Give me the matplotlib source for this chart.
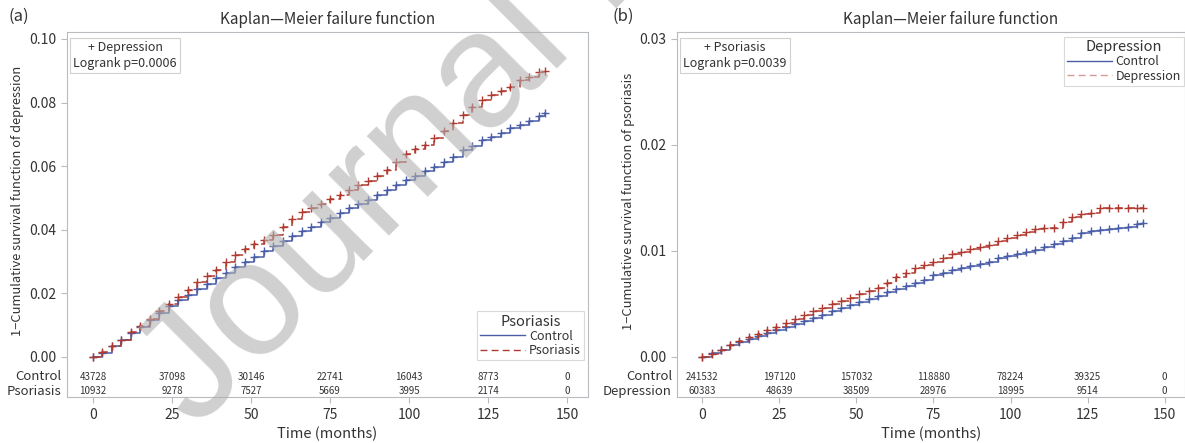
import numpy as np
import matplotlib
matplotlib.use("Agg")
import matplotlib.pyplot as plt
import matplotlib.transforms as mtransforms
from matplotlib.lines import Line2D

plt.rcParams['font.family'] = ['Noto Sans CJK KR', 'DejaVu Sans']

# months at which the curves are read
months = [0, 3, 6, 9, 12, 15, 18, 21, 24, 27, 30, 33, 36, 39, 42, 45, 48, 51, 54, 57,
          60, 63, 66, 69, 72, 75, 78, 81, 84, 87, 90, 93, 96, 99, 102, 105, 108, 111,
          114, 117, 120, 123, 126, 129, 132, 135, 138, 141, 143]

# panel (a): failure of depression
a_control = [0, 0.0013, 0.0033, 0.0053, 0.0075, 0.0095, 0.0115, 0.0138, 0.016, 0.0178,
             0.0195, 0.0213, 0.023, 0.0248, 0.0265, 0.0282, 0.0298, 0.0315, 0.0332, 0.0348,
             0.0365, 0.0382, 0.0395, 0.041, 0.0425, 0.0438, 0.0452, 0.0467, 0.048, 0.0495,
             0.051, 0.0525, 0.054, 0.0557, 0.057, 0.0585, 0.0598, 0.0612, 0.063, 0.065,
             0.0665, 0.0682, 0.0692, 0.0705, 0.072, 0.073, 0.0742, 0.0758, 0.0767]
a_psoriasis = [0, 0.0015, 0.0035, 0.0055, 0.0078, 0.0098, 0.012, 0.0145, 0.0168, 0.019,
               0.0212, 0.0235, 0.0255, 0.0275, 0.0298, 0.032, 0.034, 0.0355, 0.0368, 0.0385,
               0.0408, 0.0435, 0.0455, 0.0468, 0.048, 0.0498, 0.051, 0.0525, 0.054, 0.0552,
               0.0568, 0.0588, 0.0612, 0.0638, 0.0655, 0.0668, 0.069, 0.071, 0.0735, 0.076,
               0.0785, 0.0808, 0.0825, 0.0838, 0.0848, 0.0872, 0.088, 0.0895, 0.0900]

# panel (b): failure of psoriasis
b_control = [0, 0.0004, 0.0007, 0.0011, 0.0014, 0.0017, 0.0020, 0.0023, 0.0025, 0.0028,
             0.0031, 0.0034, 0.0037, 0.0040, 0.0043, 0.0046, 0.0049, 0.0052, 0.0055, 0.0058,
             0.0061, 0.0064, 0.0067, 0.0070, 0.0073, 0.0077, 0.0079, 0.0082, 0.0084, 0.0086,
             0.0088, 0.0090, 0.0093, 0.0095, 0.0097, 0.0099, 0.0101, 0.0104, 0.0107, 0.0109,
             0.0112, 0.0117, 0.0119, 0.0120, 0.0121, 0.0122, 0.0123, 0.0125, 0.0126]
b_depression = [0, 0.0003, 0.0007, 0.0011, 0.0015, 0.0019, 0.0022, 0.0025, 0.0028, 0.0032,
                0.0036, 0.0040, 0.0043, 0.0046, 0.0050, 0.0053, 0.0056, 0.0059, 0.0062, 0.0065,
                0.0070, 0.0075, 0.0079, 0.0084, 0.0087, 0.0090, 0.0093, 0.0097, 0.0099, 0.0102,
                0.0104, 0.0106, 0.0109, 0.0112, 0.0115, 0.0118, 0.0121, 0.0122, 0.0122, 0.0127,
                0.0132, 0.0135, 0.0136, 0.0141, 0.0141, 0.0141, 0.0141, 0.0141, 0.0141]

risk_times = [0, 25, 50, 75, 100, 125, 150]
a_risk_control = [43728, 37098, 30146, 22741, 16043, 8773, 0]
a_risk_psoriasis = [10932, 9278, 7527, 5669, 3995, 2174, 0]
b_risk_control = [241532, 197120, 157032, 118880, 78224, 39325, 0]
b_risk_depression = [60383, 48639, 38509, 28976, 18995, 9514, 0]

BLUE = '#4a5ea8'
RED = '#b03a30'
FRAME = '#b8bcc0'
TXT = '#333333'

fig = plt.figure(figsize=(11.85, 4.43), dpi=100)
W, H = 1185, 443
axa = fig.add_axes([67 / W, 1 - 397 / H, 521 / W, 365 / H])
axb = fig.add_axes([677 / W, 1 - 397 / H, 508 / W, 365 / H])


def panel(ax, top, yticks, c_vals, g_vals, risk_c, risk_g, gname,
          ylabel, note, leg_kw, leg_red, title_x):
    ax.step(months, c_vals, where='post', color=BLUE, lw=1.1, zorder=3)
    ax.step(months, g_vals, where='post', color=RED, lw=1.1, ls=(0, (5, 3)), zorder=3)
    ax.plot(months, c_vals, ls='none', marker='+', ms=6, mew=1.0, color=BLUE, zorder=3)
    ax.plot(months, g_vals, ls='none', marker='+', ms=6, mew=1.0, color=RED, zorder=3)

    span = top / 0.1 * 0.1022
    ax.set_xlim(-8.2, 156.6)
    ax.set_ylim(-span * 0.1231, span)
    ax.set_yticks(yticks)
    ax.set_yticklabels(['%.2f' % v for v in yticks])
    ax.set_xticks(risk_times)
    for s in ax.spines.values():
        s.set_color(FRAME)
    ax.tick_params(colors=FRAME, labelcolor=TXT, labelsize=10, length=4)
    ax.tick_params(axis='x', pad=4)
    ax.set_xlabel('Time (months)', fontsize=10.5, color=TXT, labelpad=3)
    ax.set_ylabel(ylabel, fontsize=9.3, color=TXT)
    ax.yaxis.set_label_coords(-0.082, 0.537)
    ax.set_title('Kaplan\u2014Meier failure function', fontsize=11, color=TXT,
                 x=title_x, pad=6)

    # at-risk table inside the frame
    tr = mtransforms.blended_transform_factory(ax.transData, ax.transAxes)
    for t, n1, n2 in zip(risk_times, risk_c, risk_g):
        ax.text(t, 0.0548, str(n1), transform=tr, ha='center', va='center',
                fontsize=7, color=TXT)
        ax.text(t, 0.0164, str(n2), transform=tr, ha='center', va='center',
                fontsize=7, color=TXT)
    ax.text(-0.01, 0.0548, 'Control', transform=ax.transAxes, ha='right',
            va='center', fontsize=9.5, color=TXT)
    ax.text(-0.01, 0.0164, gname, transform=ax.transAxes, ha='right',
            va='center', fontsize=9.5, color=TXT)

    ax.text(0.012, 0.975, note, transform=ax.transAxes, ha='left', va='top',
            fontsize=9, color=TXT, multialignment='center', linespacing=1.3,
            bbox=dict(boxstyle='square,pad=0.25', fc='white', ec='#d0d0d0', lw=0.8))

    handles = [Line2D([], [], color=BLUE, lw=1.0),
               Line2D([], [], color=leg_red, lw=1.0, ls=(0, (5, 3)))]
    leg = ax.legend(handles, ['Control', gname], title=gname,
                    fontsize=9, title_fontsize=10.5,
                    frameon=True, fancybox=False, edgecolor='#d0d0d0',
                    handlelength=3.6, handletextpad=0.3, borderpad=0.25,
                    borderaxespad=0, labelspacing=0.1, alignment='center',
                    **leg_kw)
    leg.get_frame().set_linewidth(0.8)
    for t in leg.get_texts():
        t.set_color(TXT)
    leg.get_title().set_color(TXT)


panel(axa, 0.10, [0, 0.02, 0.04, 0.06, 0.08, 0.10], a_control, a_psoriasis,
      a_risk_control, a_risk_psoriasis, 'Psoriasis',
      '1\u2212Cumulative survival function of depression',
      '+ Depression\nLogrank p=0.0006',
      dict(loc='lower right', bbox_to_anchor=(0.992, 0.101)), RED, 0.5)
panel(axb, 0.03, [0, 0.01, 0.02, 0.03], b_control, b_depression,
      b_risk_control, b_risk_depression, 'Depression',
      '1\u2212Cumulative survival function of psoriasis',
      '+ Psoriasis\nLogrank p=0.0039',
      dict(loc='upper right', bbox_to_anchor=(0.998, 0.986)), '#d49a94', 0.538)

fig.text(8 / W, 1 - 16 / H, '(a)', fontsize=12, color=TXT, va='center', ha='left')
fig.text(612 / W, 1 - 16 / H, '(b)', fontsize=12, color=TXT, va='center', ha='left')

# watermark
fig.text(195 / W, 1 - 430 / H, 'Journal Pre-proof', fontsize=118, color='#b0b0b0',
         alpha=0.6, rotation=45, rotation_mode='anchor', ha='left', va='baseline',
         family='Liberation Sans', zorder=10)

fig.savefig('out.png', dpi=100)
